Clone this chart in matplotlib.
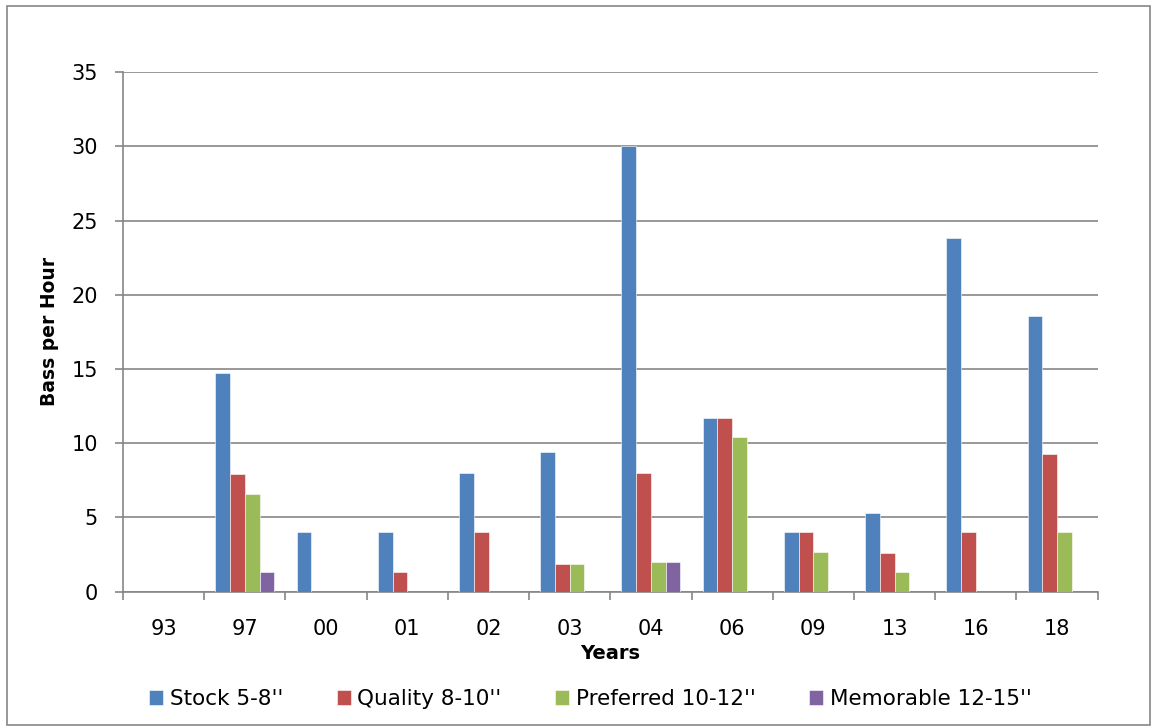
import numpy as np
import matplotlib
matplotlib.use("Agg")
import matplotlib.pyplot as plt
from matplotlib.patches import Rectangle

# survey years and catch rates (bass per hour) by size class
years = ["93", "97", "00", "01", "02", "03", "04", "06", "09", "13", "16", "18"]
stock = [0, 14.7, 4.0, 4.0, 8.0, 9.4, 30.0, 11.7, 4.0, 5.3, 23.8, 18.6]
quality = [0, 7.9, 0, 1.3, 4.0, 1.9, 8.0, 11.7, 4.0, 2.6, 4.0, 9.3]
preferred = [0, 6.6, 0, 0, 0, 1.9, 2.0, 10.4, 2.7, 1.3, 0, 4.0]
memorable = [0, 1.3, 0, 0, 0, 0, 2.0, 0, 0, 0, 0, 0]

series_names = ["Stock 5-8''", "Quality 8-10''", "Preferred 10-12''", "Memorable 12-15''"]
colors = ["#4F81BD", "#C0504D", "#9BBB59", "#8064A2"]

plt.rcParams['font.family'] = 'DejaVu Sans'

fig = plt.figure(figsize=(11.53, 7.28), dpi=100)
ax = fig.add_axes([0.1067, 0.1872, 0.8453, 0.7138])

# outer chart border
fig.patches.append(Rectangle((0.006, 0.004), 0.991, 0.988, transform=fig.transFigure,
                             fill=False, edgecolor="#868686", linewidth=1.2))

x = np.arange(len(years))
width = 1 / 5.5
all_series = [stock, quality, preferred, memorable]
for i, vals in enumerate(all_series):
    offset = (i - 1.5) * width
    ax.bar(x + offset, vals, width, color=colors[i], label=series_names[i],
           edgecolor="white", linewidth=0.4, zorder=3)

ax.set_xlim(-0.5, len(years) - 0.5)
ax.set_ylim(0, 35)
ax.set_yticks(range(0, 36, 5))
ax.yaxis.grid(True, color="#868686", linewidth=1.2, zorder=0)

for side in ["top", "right"]:
    ax.spines[side].set_visible(False)
for side in ["left", "bottom"]:
    ax.spines[side].set_color("#868686")
    ax.spines[side].set_linewidth(1.2)

# category labels at the centres, tick marks between categories
ax.set_xticks(x)
ax.set_xticklabels(years)
ax.set_xticks(np.arange(-0.5, len(years)), minor=True)
ax.tick_params(axis="x", which="major", length=0, pad=20, labelsize=15)
ax.tick_params(axis="x", which="minor", length=6, width=1.2, color="#868686")
ax.tick_params(axis="y", length=6, width=1.2, color="#868686", pad=12, labelsize=15)

ax.set_xlabel("Years", fontsize=14, fontweight="bold", labelpad=3)
ax.set_ylabel("Bass per Hour", fontsize=13.5, fontweight="bold", labelpad=9)

fig.legend(loc="center", bbox_to_anchor=(0.512, 0.040), ncol=4, frameon=False,
           fontsize=15.5, handlelength=0.65, handleheight=0.65, handletextpad=0.3,
           columnspacing=2.5)

fig.savefig("out.png", dpi=100)
